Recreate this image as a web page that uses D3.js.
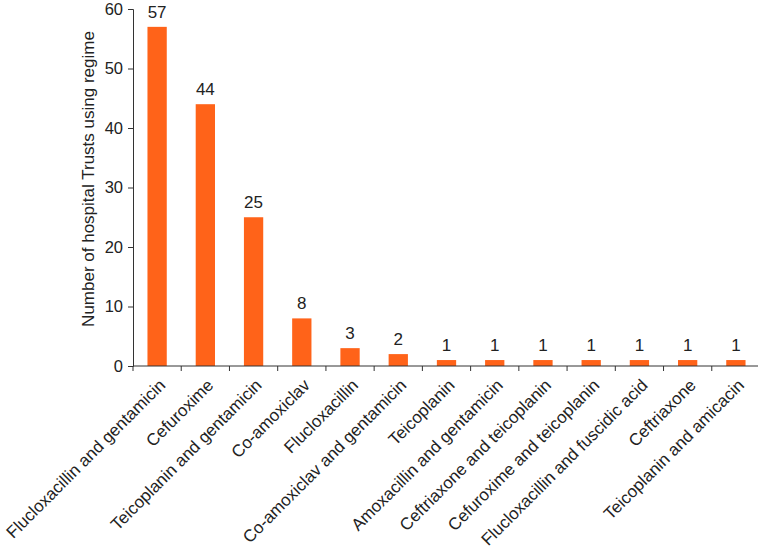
<!DOCTYPE html>
<html>
<head>
<meta charset="utf-8">
<script src="https://cdn.jsdelivr.net/npm/d3@7"></script>
<style>
  body { margin: 0; background: #fff; }
  svg { display: block; font-family: "Liberation Sans", Arial, sans-serif; }
</style>
</head>
<body>
<svg id="chart" width="758" height="550"></svg>
<script>
const regimes = [
  'Flucloxacillin and gentamicin', 'Cefuroxime', 'Teicoplanin and gentamicin',
  'Co-amoxiclav', 'Flucloxacillin', 'Co-amoxiclav and gentamicin', 'Teicoplanin',
  'Amoxacillin and gentamicin', 'Ceftriaxone and teicoplanin',
  'Cefuroxime and teicoplanin', 'Flucloxacillin and fuscidic acid',
  'Ceftriaxone', 'Teicoplanin and amicacin'
];
const trusts = [57, 44, 25, 8, 3, 2, 1, 1, 1, 1, 1, 1, 1];
const yTicks = [0, 10, 20, 30, 40, 50, 60];

const BAR_COLOR = '#ff6319';
const plotLeft = 133, plotRight = 760, plotTop = 9, plotBottom = 366;

const svg = d3.select('#chart');

const x = d3.scaleBand().domain(regimes).range([plotLeft, plotRight]).paddingInner(0.6).paddingOuter(0.3);
const xEdge = d3.scaleLinear().domain([0, regimes.length]).range([plotLeft, plotRight]);
const y = d3.scaleLinear().domain([0, 60]).range([plotBottom, plotTop]);

// bars
svg.append('g').selectAll('rect')
  .data(trusts)
  .join('rect')
    .attr('x', (d, i) => x(regimes[i]))
    .attr('width', x.bandwidth())
    .attr('y', d => y(d))
    .attr('height', d => y(0) - y(d))
    .attr('fill', BAR_COLOR);

// value labels
svg.append('g').selectAll('text')
  .data(trusts)
  .join('text')
    .attr('x', (d, i) => x(regimes[i]) + x.bandwidth() / 2)
    .attr('y', d => y(d) - 9)
    .attr('text-anchor', 'middle')
    .attr('font-size', 17)
    .attr('fill', '#222')
    .text(d => d);

// y axis
const yAxis = svg.append('g')
  .attr('transform', `translate(${plotLeft},0)`)
  .call(d3.axisLeft(y).tickValues(yTicks).tickSize(5).tickPadding(5));
yAxis.select('.domain').attr('stroke', '#333');
yAxis.selectAll('.tick line').attr('stroke', '#333');
yAxis.selectAll('text').attr('font-size', 16.5).attr('fill', '#222')
  .attr('font-family', '"Liberation Sans", Arial, sans-serif');

// x axis: ticks at category boundaries
const xg = svg.append('g');
xg.append('line')
  .attr('x1', plotLeft).attr('x2', plotRight)
  .attr('y1', plotBottom).attr('y2', plotBottom)
  .attr('stroke', '#333');
xg.selectAll('line.tk')
  .data(d3.range(regimes.length + 1))
  .join('line')
    .attr('class', 'tk')
    .attr('x1', d => xEdge(d)).attr('x2', d => xEdge(d))
    .attr('y1', plotBottom).attr('y2', plotBottom + 5)
    .attr('stroke', '#333');

// category labels, rotated
xg.selectAll('text')
  .data(regimes)
  .join('text')
    .attr('transform', d => `translate(${x(d) + x.bandwidth() / 2 + 5},${plotBottom + 16}) rotate(-45)`)
    .attr('text-anchor', 'end')
    .attr('dy', '0.35em')
    .attr('font-size', 17)
    .attr('fill', '#222')
    .text(d => d);

// y axis title
svg.append('text')
  .attr('transform', `translate(94,179) rotate(-90)`)
  .attr('text-anchor', 'middle')
  .attr('font-size', 17)
  .attr('fill', '#222')
  .text('Number of hospital Trusts using regime');
</script>
</body>
</html>
